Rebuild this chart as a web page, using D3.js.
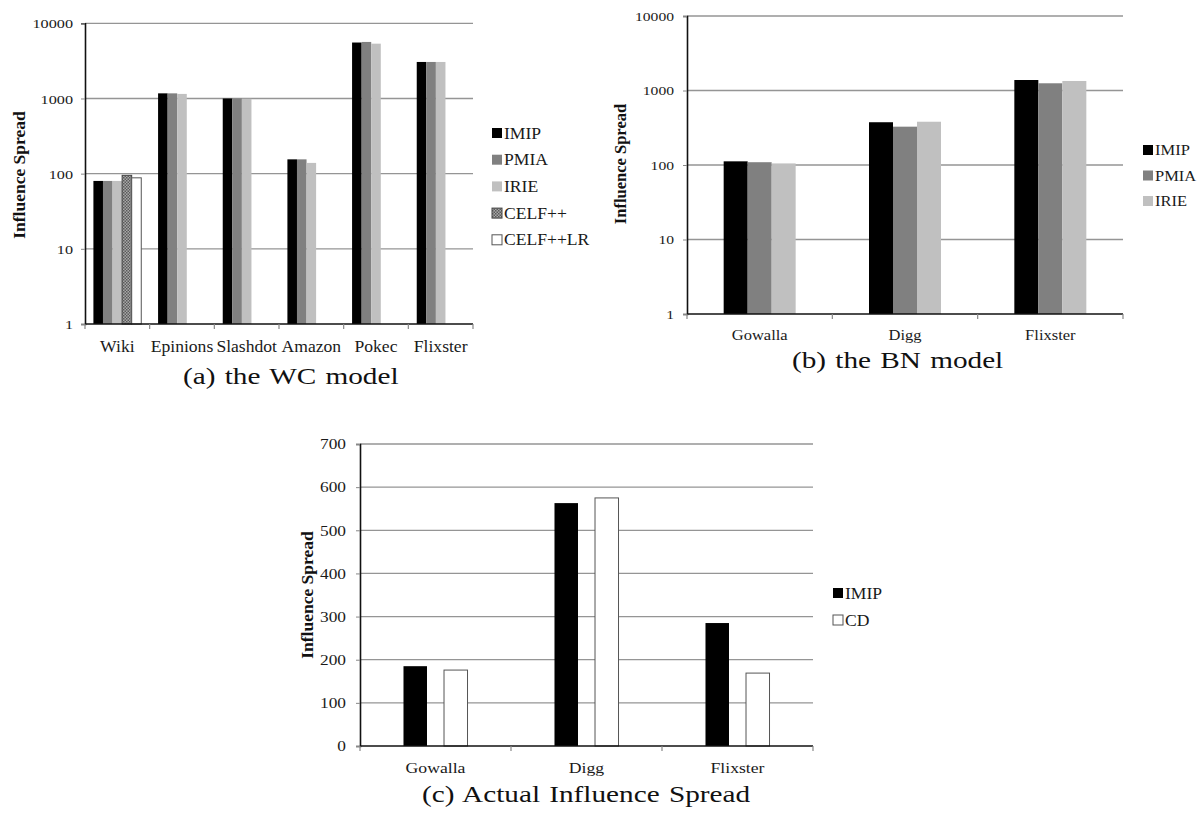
<!DOCTYPE html>
<html>
<head>
<meta charset="utf-8">
<script src="https://cdn.jsdelivr.net/npm/d3@7"></script>
<style>
  html, body { margin: 0; padding: 0; background: #fff; }
  svg { display: block; }
</style>
</head>
<body>
<svg id="chart" width="1202" height="814"></svg>
<script>
// ---------- DATA ----------
const wcCategories = ["Wiki", "Epinions", "Slashdot", "Amazon", "Pokec", "Flixster"];
const wcSeries = ["IMIP", "PMIA", "IRIE", "CELF++", "CELF++LR"];
const wcIMIP     = [80, 1170, 1000, 155, 5550, 3060];
const wcPMIA     = [80, 1170, 1000, 155, 5650, 3060];
const wcIRIE     = [80, 1150, 990, 139, 5360, 3060];
const wcCELFpp   = [95, null, null, null, null, null];
const wcCELFppLR = [88, null, null, null, null, null];

const bnCategories = ["Gowalla", "Digg", "Flixster"];
const bnSeries = ["IMIP", "PMIA", "IRIE"];
const bnIMIP = [112, 375, 1383];
const bnPMIA = [109, 327, 1250];
const bnIRIE = [105, 381, 1342];

const acCategories = ["Gowalla", "Digg", "Flixster"];
const acSeries = ["IMIP", "CD"];
const acIMIP = [185, 563, 285];
const acCD   = [176, 575, 169];

const logTicks = [1, 10, 100, 1000, 10000];
const linTicks = [0, 100, 200, 300, 400, 500, 600, 700];

const captionA = "(a) the WC model";
const captionB = "(b) the BN model";
const captionC = "(c) Actual Influence Spread";
const yTitle = "Influence Spread";

// ---------- STYLE ----------
const FONT = "'Liberation Serif', 'Times New Roman', serif";
const svg = d3.select("#chart");
svg.append("rect").attr("width", 1202).attr("height", 814).attr("fill", "#fff");

const defs = svg.append("defs");
const pat = defs.append("pattern").attr("id", "checker")
  .attr("patternUnits", "userSpaceOnUse").attr("width", 3).attr("height", 3);
pat.append("rect").attr("width", 3).attr("height", 3).attr("fill", "#a8a8a8");
pat.append("rect").attr("width", 1.5).attr("height", 1.5).attr("fill", "#5a5a5a");
pat.append("rect").attr("x", 1.5).attr("y", 1.5).attr("width", 1.5).attr("height", 1.5).attr("fill", "#5a5a5a");

const seriesStyle = {
  "IMIP":     { fill: "#000000", stroke: "none" },
  "PMIA":     { fill: "#808080", stroke: "none" },
  "IRIE":     { fill: "#c0c0c0", stroke: "none" },
  "CELF++":   { fill: "url(#checker)", stroke: "#444" },
  "CELF++LR": { fill: "#ffffff", stroke: "#555" },
  "CD":       { fill: "#ffffff", stroke: "#555" }
};

function stext(g, x, y, str, o) {
  return g.append("text")
    .attr("transform", `translate(${x},${y}) scale(${o.sx || 1},1)`)
    .attr("text-anchor", o.anchor || "start")
    .attr("font-family", FONT)
    .attr("font-size", o.size)
    .attr("font-weight", o.weight || "normal")
    .attr("fill", o.fill || "#1a1a1a")
    .attr("dy", o.dy || 0)
    .style("word-spacing", (o.ws || 0) + "px")
    .text(str);
}

function panel(cfg) {
  const g = svg.append("g");
  const x = d3.scaleBand().domain(cfg.categories).range([cfg.x0, cfg.x1]).padding(0);
  const bw = x.bandwidth();
  const inner = d3.scaleBand().domain(cfg.series)
    .range([bw * cfg.innerL, bw * cfg.innerR]).paddingInner(cfg.innerPad || 0);
  const y = cfg.y;
  const base = y.range()[0];

  // grid lines
  g.append("g").selectAll("line").data(cfg.ticks.filter(t => y(t) < base - 1)).join("line")
    .attr("x1", cfg.x0).attr("x2", cfg.x1)
    .attr("y1", d => y(d)).attr("y2", d => y(d))
    .attr("stroke", "#959595").attr("stroke-width", 1.3);

  // bars
  cfg.series.forEach((s, si) => {
    const vals = cfg.values[si];
    const st = seriesStyle[s];
    g.append("g").selectAll("rect")
      .data(cfg.categories.map((c, i) => ({ c, v: vals[i] })).filter(d => d.v != null))
      .join("rect")
      .attr("x", d => x(d.c) + inner(s))
      .attr("y", d => y(d.v))
      .attr("width", inner.bandwidth())
      .attr("height", d => base - y(d.v))
      .attr("fill", st.fill)
      .attr("stroke", st.stroke)
      .attr("stroke-width", st.stroke === "none" ? 0 : 1);
  });

  // y axis
  const ya = g.append("g").attr("transform", `translate(${cfg.x0},0)`)
    .call(d3.axisLeft(y).tickValues(cfg.ticks).tickSize(4).tickFormat(d3.format("d")));
  ya.select(".domain").attr("stroke", "#111").attr("stroke-width", 1.6);
  ya.selectAll(".tick line").attr("stroke", "#888");
  ya.selectAll(".tick text")
    .attr("x", 0)
    .attr("transform", `translate(${-cfg.tickPad},0) scale(${cfg.tickSx},1)`)
    .attr("font-family", FONT).attr("font-size", cfg.tickSize).attr("fill", "#1a1a1a")
    .attr("dy", "0.34em");

  // x axis line
  g.append("line").attr("x1", cfg.x0).attr("x2", cfg.x1).attr("y1", base).attr("y2", base)
    .attr("stroke", "#111").attr("stroke-width", 1.6);
  const bounds = cfg.categories.map(c => x(c)).concat([cfg.x1]);
  g.append("g").selectAll("line").data(bounds).join("line")
    .attr("x1", d => d).attr("x2", d => d).attr("y1", base).attr("y2", base + 5)
    .attr("stroke", "#888").attr("stroke-width", 1.2);

  // category labels
  cfg.categories.forEach(c => {
    stext(g, x(c) + bw / 2, cfg.labelY, c, { size: cfg.labelSize, sx: cfg.labelSx, anchor: "middle" });
  });

  // y title
  g.append("text")
    .attr("transform", `translate(${cfg.titleX},${cfg.titleY}) rotate(-90)`)
    .attr("text-anchor", "middle").attr("dy", "0.35em")
    .attr("font-family", FONT).attr("font-weight", "bold")
    .attr("font-size", cfg.titleSize).attr("fill", "#111")
    .text(yTitle);

  // legend
  cfg.series.forEach((s, i) => {
    const st = seriesStyle[s];
    const ly = cfg.legY + i * cfg.legStep;
    g.append("rect").attr("x", cfg.legX).attr("y", ly - 5).attr("width", 10).attr("height", 10)
      .attr("fill", st.fill).attr("stroke", st.stroke)
      .attr("stroke-width", st.stroke === "none" ? 0 : 1);
    stext(g, cfg.legX + 12, ly, s, { size: cfg.legSize, sx: cfg.legSx, dy: "0.35em" });
  });

  // caption
  stext(g, cfg.capX, cfg.capY, cfg.caption, { size: 22.5, sx: 1.3, anchor: "start", fill: "#111", ws: 1.5 });
}

panel({
  categories: wcCategories, series: wcSeries,
  values: [wcIMIP, wcPMIA, wcIRIE, wcCELFpp, wcCELFppLR],
  x0: 85, x1: 473, innerL: 0.13, innerR: 0.87,
  y: d3.scaleLog().domain([1, 10000]).range([324, 23.3]),
  ticks: logTicks, tickPad: 12, tickSx: 1.2, tickSize: 13.5,
  labelY: 352, labelSize: 16, labelSx: 1.1,
  titleX: 19, titleY: 175, titleSize: 17.5,
  legX: 492, legY: 133, legStep: 26.7, legSize: 16, legSx: 1.1,
  caption: captionA, capX: 183, capY: 384
});

panel({
  categories: bnCategories, series: bnSeries,
  values: [bnIMIP, bnPMIA, bnIRIE],
  x0: 687, x1: 1123, innerL: 0.2523, innerR: 0.7477,
  y: d3.scaleLog().domain([1, 10000]).range([314, 16]),
  ticks: logTicks, tickPad: 13, tickSx: 1.25, tickSize: 12.5,
  labelY: 340, labelSize: 14, labelSx: 1.18,
  titleX: 620, titleY: 164, titleSize: 16.5,
  legX: 1143, legY: 150, legStep: 25.5, legSize: 15, legSx: 1.1,
  caption: captionB, capX: 792, capY: 368
});

panel({
  categories: acCategories, series: acSeries,
  values: [acIMIP, acCD],
  x0: 360, x1: 813, innerL: 0.288, innerR: 0.712, innerPad: 0.42,
  y: d3.scaleLinear().domain([0, 700]).range([746, 444]),
  ticks: linTicks, tickPad: 14, tickSx: 1.24, tickSize: 14,
  labelY: 773, labelSize: 15, labelSx: 1.18,
  titleX: 307, titleY: 595, titleSize: 17.5,
  legX: 833, legY: 593, legStep: 27, legSize: 16, legSx: 1.1,
  caption: captionC, capX: 422, capY: 802
});
</script>
</body>
</html>
